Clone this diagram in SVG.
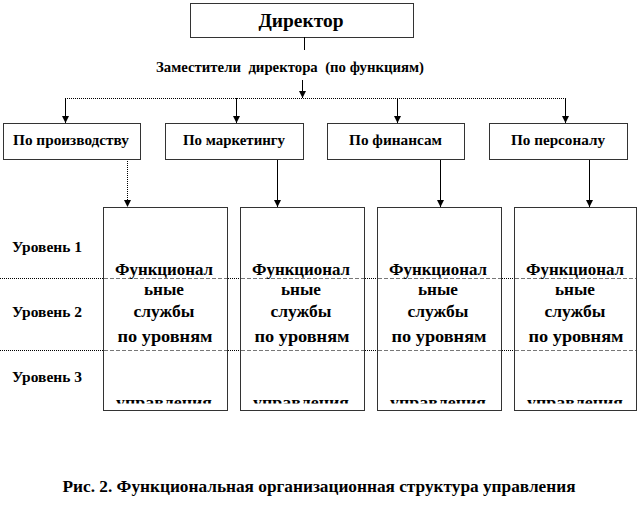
<svg xmlns="http://www.w3.org/2000/svg" width="642" height="509" viewBox="0 0 642 509">
<style>
.t{font-family:'Liberation Serif','Times New Roman',Tinos,'DejaVu Serif',serif;font-weight:bold;fill:#000}
.box{fill:#fff;stroke:#333;stroke-width:1}
.sol{stroke:#000;stroke-width:1;fill:none}
.dot{stroke:#000;stroke-width:1;stroke-dasharray:1,1;fill:none}
.dash{stroke:#777;stroke-width:1;stroke-dasharray:4,2;fill:none}
.mid{text-anchor:middle}
.fs{font-size:16px}
</style>
<defs>
<marker id="ah" markerWidth="8" markerHeight="8" refX="7" refY="4" orient="auto" markerUnits="userSpaceOnUse" viewBox="0 0 8 8">
<path d="M0,0.5 L7,4 L0,7.5 Z" fill="#000"/>
</marker>
<clipPath id="clipBot"><rect x="0" y="0" width="642" height="403.5"/></clipPath>
</defs>

<g id="director">
<rect class="box" x="190.5" y="3.5" width="223" height="34"/>
<text class="t mid" x="301" y="27" font-size="19" textLength="85" lengthAdjust="spacingAndGlyphs">Директор</text>
</g>

<g id="deputies-label">
<text class="t mid" x="290" y="72" font-size="14" xml:space="preserve" textLength="268" lengthAdjust="spacingAndGlyphs">Заместители  директора  (по функциям)</text>
</g>

<g id="connectors">
<line class="sol" x1="304.5" y1="37" x2="304.5" y2="50"/>
<line class="sol" x1="302.5" y1="80" x2="302.5" y2="98" marker-end="url(#ah)"/>
<line class="dot" x1="65" y1="98.5" x2="566" y2="98.5"/>
<line class="sol" x1="65.5" y1="98" x2="65.5" y2="123" marker-end="url(#ah)"/>
<line class="sol" x1="236.5" y1="98" x2="236.5" y2="123" marker-end="url(#ah)"/>
<line class="sol" x1="397.5" y1="98" x2="397.5" y2="123" marker-end="url(#ah)"/>
<line class="sol" x1="565.5" y1="98" x2="565.5" y2="123" marker-end="url(#ah)"/>
<line class="dot" x1="127.5" y1="159" x2="127.5" y2="207" marker-end="url(#ah)"/>
<line class="sol" x1="277.5" y1="159" x2="277.5" y2="207" marker-end="url(#ah)"/>
<line class="sol" x1="440.5" y1="159" x2="440.5" y2="207" marker-end="url(#ah)"/>
<line class="sol" x1="589.5" y1="159" x2="589.5" y2="207" marker-end="url(#ah)"/>
</g>

<g id="dept-production">
<rect class="box" x="3.5" y="123.5" width="137" height="36"/>
<text class="t mid" x="71" y="145" font-size="14" textLength="116" lengthAdjust="spacingAndGlyphs">По производству</text>
</g>
<g id="dept-marketing">
<rect class="box" x="165.5" y="123.5" width="138" height="36"/>
<text class="t mid" x="234" y="145" font-size="14" textLength="102" lengthAdjust="spacingAndGlyphs">По маркетингу</text>
</g>
<g id="dept-finance">
<rect class="box" x="327.5" y="123.5" width="137" height="36"/>
<text class="t mid" x="395.5" y="145" font-size="14" textLength="93" lengthAdjust="spacingAndGlyphs">По финансам</text>
</g>
<g id="dept-personnel">
<rect class="box" x="489.5" y="123.5" width="138" height="36"/>
<text class="t mid" x="558" y="145" font-size="14" textLength="94" lengthAdjust="spacingAndGlyphs">По персоналу</text>
</g>

<g id="levels">
<line class="dot" x1="0" y1="278.5" x2="103" y2="278.5"/>
<line class="dot" x1="228" y1="278.5" x2="240" y2="278.5"/>
<line class="dot" x1="365" y1="278.5" x2="377" y2="278.5"/>
<line class="dot" x1="502" y1="278.5" x2="514" y2="278.5"/>
<line class="dot" x1="0" y1="350.5" x2="103" y2="350.5"/>
<line class="dot" x1="228" y1="350.5" x2="240" y2="350.5"/>
<line class="dot" x1="365" y1="350.5" x2="377" y2="350.5"/>
<line class="dot" x1="502" y1="350.5" x2="514" y2="350.5"/>
<text class="t" x="12" y="252" font-size="14" textLength="70" lengthAdjust="spacingAndGlyphs">Уровень 1</text>
<text class="t" x="12" y="317" font-size="14" textLength="70" lengthAdjust="spacingAndGlyphs">Уровень 2</text>
<text class="t" x="12" y="382" font-size="14" textLength="70" lengthAdjust="spacingAndGlyphs">Уровень 3</text>
</g>

<g id="services-1">
<rect class="box" x="103.5" y="207.5" width="124" height="203"/>
<line class="dash" x1="104" y1="278.5" x2="227" y2="278.5"/>
<line class="dash" x1="104" y1="350.5" x2="227" y2="350.5"/>
<text class="t mid fs" x="164" y="275" textLength="98" lengthAdjust="spacingAndGlyphs">Функционал</text>
<text class="t mid fs" x="164" y="295" textLength="40" lengthAdjust="spacingAndGlyphs">ьные</text>
<text class="t mid fs" x="164" y="317" textLength="61" lengthAdjust="spacingAndGlyphs">службы</text>
<text class="t mid fs" x="165" y="342" textLength="95" lengthAdjust="spacingAndGlyphs">по уровням</text>
<text class="t mid fs" x="164" y="408" clip-path="url(#clipBot)" textLength="96" lengthAdjust="spacingAndGlyphs">управления</text>
</g>
<g id="services-2">
<rect class="box" x="240.5" y="207.5" width="124" height="203"/>
<line class="dash" x1="241" y1="278.5" x2="364" y2="278.5"/>
<line class="dash" x1="241" y1="350.5" x2="364" y2="350.5"/>
<text class="t mid fs" x="301" y="275" textLength="98" lengthAdjust="spacingAndGlyphs">Функционал</text>
<text class="t mid fs" x="301" y="295" textLength="40" lengthAdjust="spacingAndGlyphs">ьные</text>
<text class="t mid fs" x="301" y="317" textLength="61" lengthAdjust="spacingAndGlyphs">службы</text>
<text class="t mid fs" x="302" y="342" textLength="95" lengthAdjust="spacingAndGlyphs">по уровням</text>
<text class="t mid fs" x="301" y="408" clip-path="url(#clipBot)" textLength="96" lengthAdjust="spacingAndGlyphs">управления</text>
</g>
<g id="services-3">
<rect class="box" x="377.5" y="207.5" width="124" height="203"/>
<line class="dash" x1="378" y1="278.5" x2="501" y2="278.5"/>
<line class="dash" x1="378" y1="350.5" x2="501" y2="350.5"/>
<text class="t mid fs" x="438" y="275" textLength="98" lengthAdjust="spacingAndGlyphs">Функционал</text>
<text class="t mid fs" x="438" y="295" textLength="40" lengthAdjust="spacingAndGlyphs">ьные</text>
<text class="t mid fs" x="438" y="317" textLength="61" lengthAdjust="spacingAndGlyphs">службы</text>
<text class="t mid fs" x="439" y="342" textLength="95" lengthAdjust="spacingAndGlyphs">по уровням</text>
<text class="t mid fs" x="438" y="408" clip-path="url(#clipBot)" textLength="96" lengthAdjust="spacingAndGlyphs">управления</text>
</g>
<g id="services-4">
<rect class="box" x="514.5" y="207.5" width="122" height="203"/>
<line class="dash" x1="515" y1="278.5" x2="636" y2="278.5"/>
<line class="dash" x1="515" y1="350.5" x2="636" y2="350.5"/>
<text class="t mid fs" x="575" y="275" textLength="98" lengthAdjust="spacingAndGlyphs">Функционал</text>
<text class="t mid fs" x="575" y="295" textLength="40" lengthAdjust="spacingAndGlyphs">ьные</text>
<text class="t mid fs" x="575" y="317" textLength="61" lengthAdjust="spacingAndGlyphs">службы</text>
<text class="t mid fs" x="576" y="342" textLength="95" lengthAdjust="spacingAndGlyphs">по уровням</text>
<text class="t mid fs" x="575" y="408" clip-path="url(#clipBot)" textLength="96" lengthAdjust="spacingAndGlyphs">управления</text>
</g>

<g id="caption">
<text class="t mid" x="319" y="492" font-size="16" textLength="513" lengthAdjust="spacingAndGlyphs">Рис. 2. Функциональная организационная структура управления</text>
</g>
</svg>
